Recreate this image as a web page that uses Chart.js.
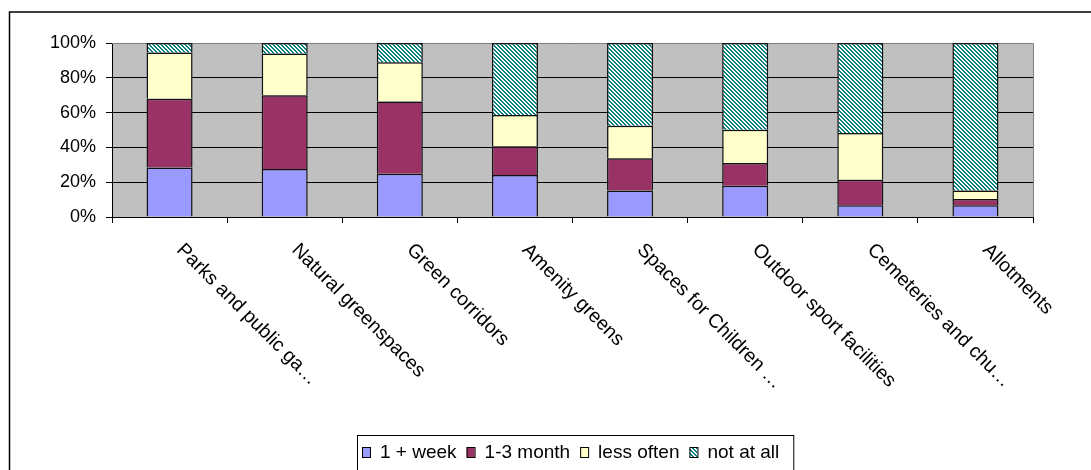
<!DOCTYPE html>
<html>
<head>
<meta charset="utf-8">
<script src="https://cdn.jsdelivr.net/npm/chart.js@4/dist/chart.umd.min.js"></script>
<style>
  html, body { margin: 0; padding: 0; background: #fff; }
  #wrap { width: 1091px; height: 470px; position: relative; }
</style>
</head>
<body>
<div id="wrap"><canvas id="c" width="1091" height="470"></canvas></div>
<script>
// Green space types surveyed
const categories = [
  'Parks and public ga\u2026',
  'Natural greenspaces',
  'Green corridors',
  'Amenity greens',
  'Spaces for Children \u2026',
  'Outdoor sport facilities',
  'Cemeteries and chu\u2026',
  'Allotments'
];

// Share of respondents (%) by frequency of visit
const weekly     = [28.5, 27.6, 24.9, 24.1, 15.3, 18.0,  6.7,  6.7];
const monthly    = [39.5, 42.3, 41.5, 16.5, 18.4, 13.0, 14.7,  3.6];
const lessOften  = [26.5, 24.0, 22.5, 18.0, 18.8, 19.2, 26.9,  5.0];
const notAtAll   = [ 5.5,  6.1, 11.1, 41.4, 47.5, 49.8, 51.7, 84.7];

const seriesNames = ['1 + week', '1-3 month', 'less often', 'not at all'];
const yTicks = [0, 20, 40, 60, 80, 100];

const FONT = "'Liberation Sans', Arial, sans-serif";

// Teal diagonal hatch used for "not at all"
function makeHatch() {
  const t = document.createElement('canvas');
  t.width = 4; t.height = 4;
  const tc = t.getContext('2d');
  const img = tc.createImageData(4, 4);
  for (let y = 0; y < 4; y++) {
    for (let x = 0; x < 4; x++) {
      const i = (y * 4 + x) * 4;
      const on = ((x - y + 8) % 4) < 2;
      img.data[i]     = on ? 0   : 255;
      img.data[i + 1] = on ? 128 : 255;
      img.data[i + 2] = on ? 128 : 255;
      img.data[i + 3] = 255;
    }
  }
  tc.putImageData(img, 0, 0);
  return document.getElementById('c').getContext('2d').createPattern(t, 'repeat');
}
const hatch = makeHatch();

const fills = ['#9999FF', '#993366', '#FFFFCC', hatch];
const seriesData = [weekly, monthly, lessOften, notAtAll];

// Gray plot background, chart frame, plot frame
const framePlugin = {
  id: 'frame',
  beforeDraw(chart) {
    const { ctx, chartArea: a } = chart;
    ctx.save();
    ctx.fillStyle = '#fff';
    ctx.fillRect(0, 0, chart.width, chart.height);
    ctx.fillStyle = '#C0C0C0';
    ctx.fillRect(a.left, a.top, a.right - a.left, a.bottom - a.top);
    // outer chart border
    ctx.strokeStyle = '#000';
    ctx.lineWidth = 1.5;
    ctx.beginPath();
    ctx.moveTo(9.5, chart.height + 5);
    ctx.lineTo(9.5, 12);
    ctx.lineTo(chart.width + 5, 12);
    ctx.stroke();
    ctx.restore();
  },
  beforeDatasetsDraw(chart) {
    const { ctx, chartArea: a } = chart;
    ctx.save();
    ctx.strokeStyle = '#808080';
    ctx.lineWidth = 1;
    ctx.beginPath();
    ctx.moveTo(a.left, Math.round(a.top) + 0.5);
    ctx.lineTo(Math.round(a.right) + 0.5, Math.round(a.top) + 0.5);
    ctx.lineTo(Math.round(a.right) + 0.5, a.bottom);
    ctx.stroke();
    ctx.restore();
  }
};

// Category labels turned 45° clockwise, hanging from each category centre
const xLabelPlugin = {
  id: 'xlabels',
  afterDraw(chart) {
    const { ctx } = chart;
    const xs = chart.scales.x;
    const top = chart.chartArea.bottom + 30;
    ctx.save();
    ctx.font = '19.5px ' + FONT;
    ctx.fillStyle = '#000';
    ctx.textAlign = 'left';
    ctx.textBaseline = 'middle';
    categories.forEach((lbl, i) => {
      const x = xs.getPixelForValue(i) + 10;
      ctx.save();
      ctx.translate(x, top);
      ctx.rotate(Math.PI / 4);
      ctx.fillText(lbl, 0, 0);
      ctx.restore();
    });
    ctx.restore();
  }
};

// Boxed legend under the chart
const legendPlugin = {
  id: 'boxLegend',
  afterDraw(chart) {
    const { ctx } = chart;
    ctx.save();
    ctx.font = '19px ' + FONT;
    ctx.textBaseline = 'alphabetic';
    let x = 362;
    const my = 447, mw = 8, mh = 10, base = 457.5;
    chart.data.datasets.forEach((ds) => {
      ctx.fillStyle = ds.backgroundColor;
      ctx.fillRect(x, my, mw, mh);
      ctx.strokeStyle = '#000';
      ctx.lineWidth = 1;
      ctx.strokeRect(x + 0.5, my + 0.5, mw, mh);
      x += mw + 10;
      ctx.fillStyle = '#000';
      ctx.fillText(ds.label, x, base);
      x += ctx.measureText(ds.label).width + 10;
    });
    const right = x + 4;
    ctx.strokeStyle = '#000';
    ctx.lineWidth = 1;
    ctx.strokeRect(357.5, 435.5, right - 357, 60);
    ctx.restore();
  }
};

new Chart(document.getElementById('c'), {
  type: 'bar',
  data: {
    labels: categories,
    datasets: seriesNames.map((name, k) => ({
      label: name,
      data: seriesData[k],
      backgroundColor: fills[k],
      borderColor: '#111',
      borderWidth: 1.5,
      categoryPercentage: 1,
      barPercentage: 0.4
    }))
  },
  options: {
    responsive: false,
    animation: false,
    events: [],
    layout: { padding: { left: 0, top: 43, right: 58, bottom: 0 } },
    plugins: { legend: { display: false }, tooltip: { enabled: false }, title: { display: false } },
    scales: {
      x: {
        stacked: true,
        offset: true,
        grid: { offset: true, drawOnChartArea: false, drawTicks: true, tickLength: 6, color: '#000', lineWidth: 1 },
        border: { display: true, color: '#000', width: 1 },
        ticks: { display: false },
        afterFit(s) { s.height = 253; }
      },
      y: {
        stacked: true,
        min: 0,
        max: 100,
        afterBuildTicks(s) { s.ticks = yTicks.map(v => ({ value: v })); },
        grid: { color: '#000', lineWidth: 1, drawTicks: true, tickLength: 6 },
        border: { display: true, color: '#000', width: 1 },
        ticks: {
          padding: 10,
          color: '#000',
          font: { family: FONT, size: 18 },
          callback: v => v + '%'
        },
        afterFit(s) { s.width = 112; }
      }
    }
  },
  plugins: [framePlugin, xLabelPlugin, legendPlugin]
});
</script>
</body>
</html>
